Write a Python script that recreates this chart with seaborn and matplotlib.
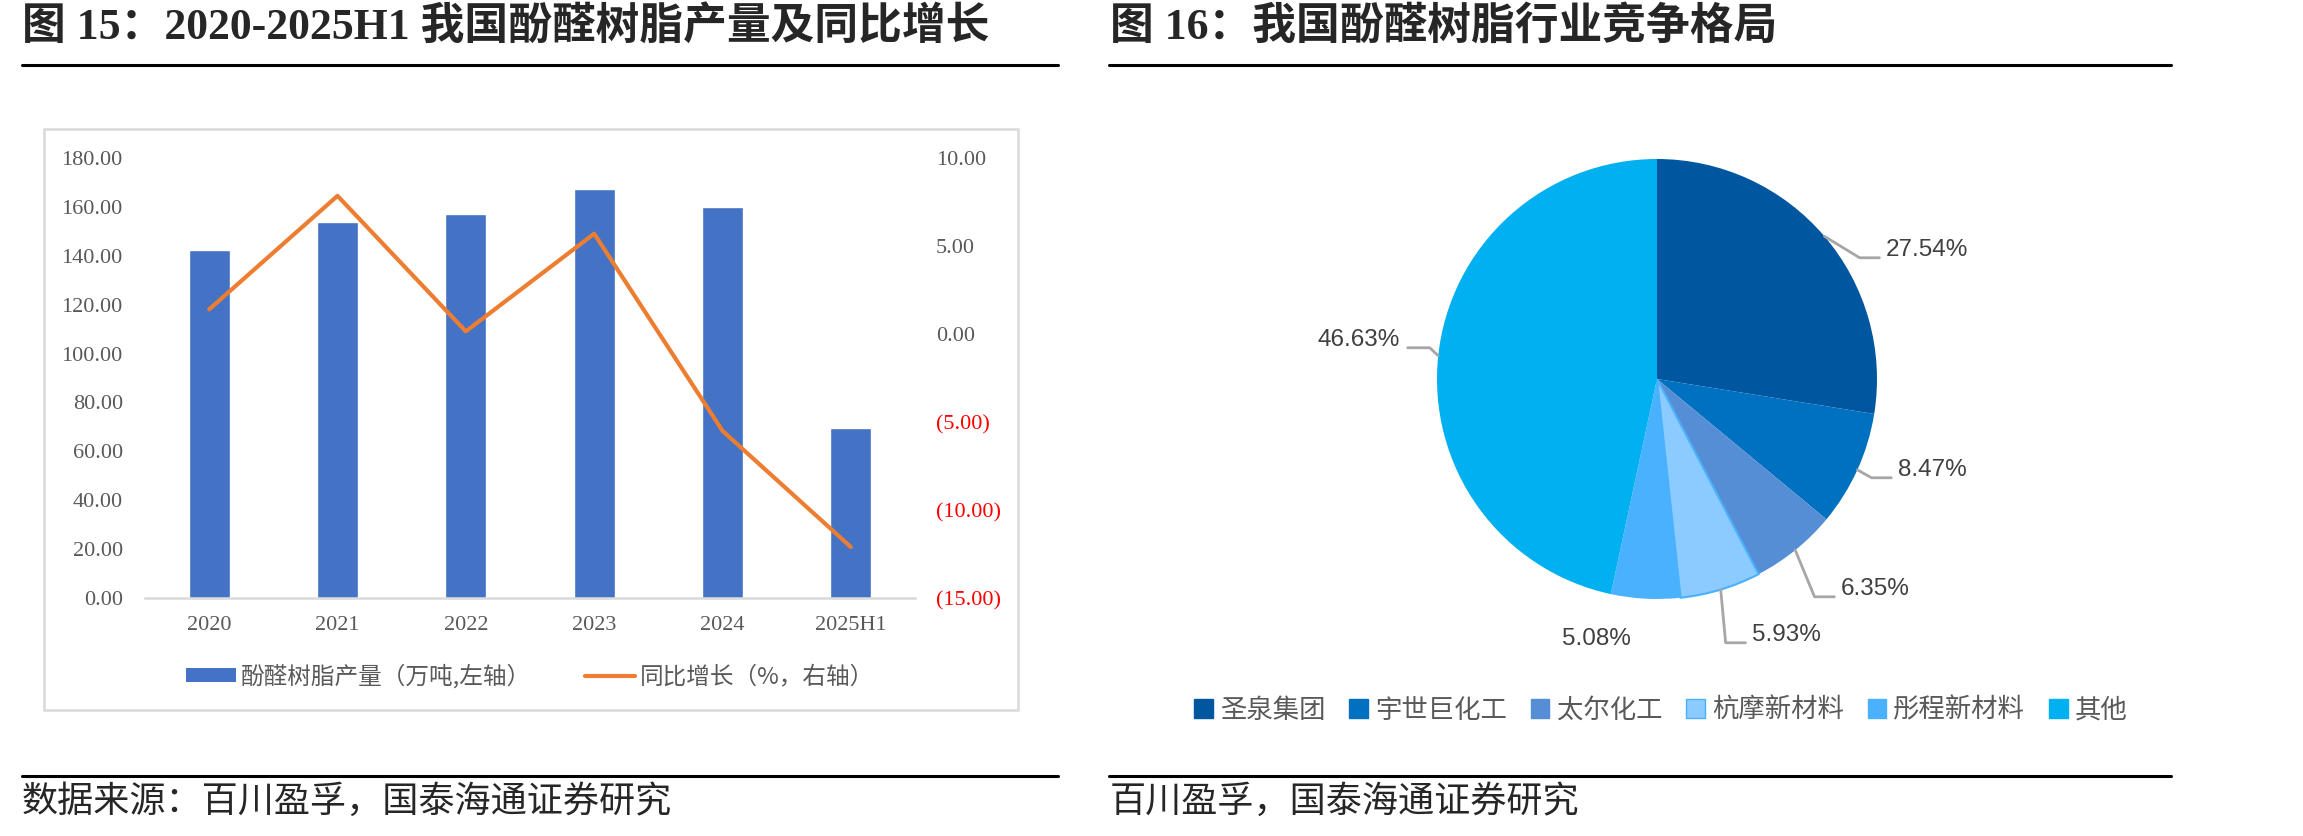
import numpy as np
import matplotlib
matplotlib.use('Agg')
import matplotlib.pyplot as plt
from matplotlib.patches import Rectangle, Patch
from matplotlib.lines import Line2D
import seaborn as sns

# left chart data
years = ['2020', '2021', '2022', '2023', '2024', '2025H1']
output = [142.5, 154.0, 157.0, 167.5, 160.0, 69.5]      # 万吨
growth = [1.4, 7.85, 0.15, 5.7, -5.5, -12.1]            # %
left_ticks = [0, 20, 40, 60, 80, 100, 120, 140, 160, 180]
right_ticks = [-15, -10, -5, 0, 5, 10]

# right chart data
companies = ['圣泉集团', '宇世巨化工', '太尔化工', '杭摩新材料', '彤程新材料', '其他']
shares = [27.54, 8.47, 6.35, 5.93, 5.08, 46.63]
pie_colors = ['#01579F', '#0070C0', '#558ED5', '#8CCBFF', '#4AB1FF', '#00B0F0']

# label placement for pie (layout, in pie radius units)
label_pos = [(1.041, 0.586), (1.095, -0.414), (0.836, -0.955),
             (0.432, -1.164), (-0.118, -1.18), (-1.168, 0.177)]
has_leader = [True, True, True, True, False, True]

W, H = 2303, 836
sns.set_style('white')
plt.rcParams['font.family'] = ['Liberation Serif', 'Noto Sans CJK SC']
plt.rcParams['axes.unicode_minus'] = False

fig = plt.figure(figsize=(W / 100, H / 100), dpi=100)


def fx(px):
    return px / W


def fy(py):
    return (H - py) / H


cjk_title = ['Liberation Serif', 'Noto Sans CJK SC']
fig.text(fx(22), fy(27), '图 15：2020-2025H1 我国酚醛树脂产量及同比增长', fontsize=31.5,
         fontweight='bold', family=cjk_title, va='center', ha='left')
fig.text(fx(1110), fy(27), '图 16：我国酚醛树脂行业竞争格局', fontsize=31.5,
         fontweight='bold', family=cjk_title, va='center', ha='left')
for x0, x1 in [(22, 1058), (1109, 2171)]:
    fig.add_artist(Line2D([fx(x0), fx(x1)], [fy(65), fy(65)], color='black', lw=2.2))
    fig.add_artist(Line2D([fx(x0), fx(x1)], [fy(776), fy(776)], color='black', lw=2.2))
fig.text(fx(22), fy(802), '数据来源：百川盈孚，国泰海通证券研究', fontsize=26,
         family=['Noto Sans CJK SC'], va='center', ha='left')
fig.text(fx(1110), fy(802), '百川盈孚，国泰海通证券研究', fontsize=26,
         family=['Noto Sans CJK SC'], va='center', ha='left')

# chart frame
fig.add_artist(Rectangle((fx(44), fy(710)), fx(1018) - fx(44), fy(129) - fy(710),
                         transform=fig.transFigure, fill=False, edgecolor='#D9D9D9', lw=1.8))

# ---- bar + line chart
ax = fig.add_axes([fx(145), fy(598), fx(915) - fx(145), fy(158) - fy(598)])
sns.barplot(x=years, y=output, color='#4472C4', saturation=1, width=0.32, ax=ax)
ax.set_xlim(-0.5, 5.5)
ax.set_ylim(0, 180)
ax.set_yticks(left_ticks)
ax.set_yticklabels([f'{v:.2f}' for v in left_ticks])
ax.set_xlabel('')
ax.set_ylabel('')
for s in ['top', 'right', 'left']:
    ax.spines[s].set_visible(False)
ax.spines['bottom'].set_color('#D9D9D9')
ax.spines['bottom'].set_linewidth(1.8)
ax.tick_params(axis='y', length=0, pad=16, labelsize=16, labelcolor='#595959')
ax.tick_params(axis='x', length=0, pad=13, labelsize=16, labelcolor='#595959')

ax2 = ax.twinx()
sns.lineplot(x=np.arange(len(years)), y=growth, color='#ED7D31', linewidth=3, ax=ax2)
ax2.set_ylim(-15, 10)
ax2.set_yticks(right_ticks)
ax2.set_yticklabels([f'{v:.2f}' if v >= 0 else f'({-v:.2f})' for v in right_ticks])
for lab, v in zip(ax2.get_yticklabels(), right_ticks):
    lab.set_color('#FF0000' if v < 0 else '#595959')
ax2.set_ylabel('')
for s in ax2.spines.values():
    s.set_visible(False)
ax2.tick_params(axis='y', length=0, pad=15, labelsize=16)

handles = [Patch(facecolor='#4472C4', edgecolor='none'),
           Line2D([0], [0], color='#ED7D31', lw=3)]
leg = ax.legend(handles, ['酚醛树脂产量（万吨,左轴）', '同比增长（%，右轴）'],
                loc='center', bbox_to_anchor=(0.5, (fy(676) - fy(598)) / (fy(158) - fy(598))),
                ncol=2, frameon=False, handlelength=2.1, handleheight=0.5,
                handletextpad=0.2, columnspacing=2.3,
                prop={'family': ['Noto Sans CJK SC'], 'size': 17})
for t in leg.get_texts():
    t.set_color('#595959')

# ---- pie chart
cx, cy, R = 1657, 379, 220
pax = fig.add_axes([fx(cx - R), fy(cy + R), fx(2 * R), fy(cy - R) - fy(cy + R)])
wedges, _ = pax.pie(shares, colors=pie_colors, startangle=90, counterclock=False,
                    radius=1, wedgeprops=dict(linewidth=0))
wedges[3].set_edgecolor('#4AB1FF')
wedges[3].set_linewidth(1.5)
pax.set_xlim(-1, 1)
pax.set_ylim(-1, 1)

for w, val, (tx, ty), lead in zip(wedges, shares, label_pos, has_leader):
    mid = np.deg2rad((w.theta1 + w.theta2) / 2)
    ex, ey = np.cos(mid), np.sin(mid)
    if tx >= 0:
        pax.text(tx, ty, f'{val:.2f}%', ha='left', va='center', fontsize=17.5,
                 family=['Liberation Sans'], color='#404040')
        hx1 = tx - 0.03
        hx0 = hx1 - 0.09
    else:
        pax.text(tx, ty, f'{val:.2f}%', ha='right', va='center', fontsize=17.5,
                 family=['Liberation Sans'], color='#404040')
        hx1 = tx + 0.035
        hx0 = hx1 + 0.1
    if lead:
        hy = ty - 0.035
        pax.plot([ex, hx0, hx1], [ey, hy, hy], color='#A6A6A6', lw=2, clip_on=False)

pie_handles = [Patch(facecolor=c, edgecolor=('#4AB1FF' if i == 3 else c))
               for i, c in enumerate(pie_colors)]
pleg = fig.legend(pie_handles, companies, loc='center', bbox_to_anchor=(fx(1661), fy(710)),
                  ncol=6, frameon=False, handlelength=0.7, handleheight=0.7,
                  handletextpad=0.28, columnspacing=0.9,
                  prop={'family': ['Noto Sans CJK SC'], 'size': 19})
for t in pleg.get_texts():
    t.set_color('#595959')

fig.savefig('out.png', dpi=100)
